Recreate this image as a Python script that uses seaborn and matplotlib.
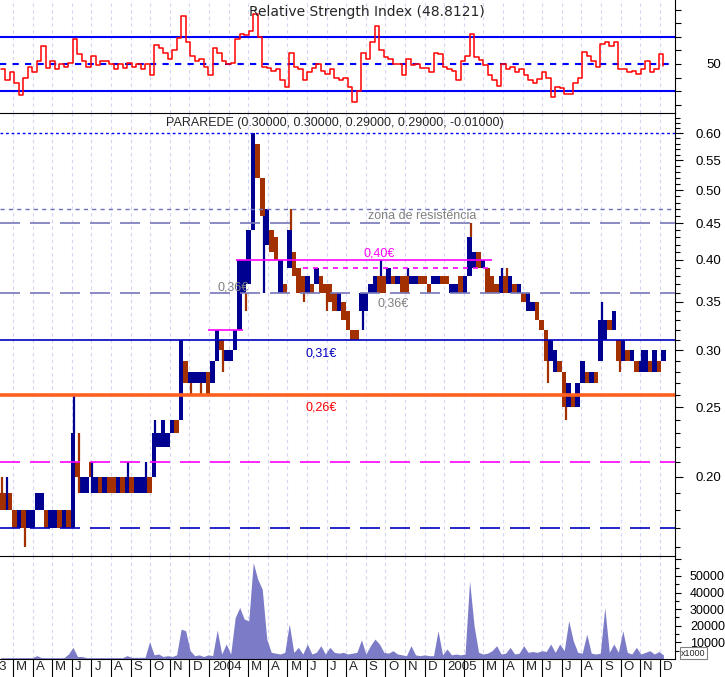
import numpy as np
import pandas as pd
import matplotlib
matplotlib.use("Agg")
import matplotlib.pyplot as plt
import matplotlib.transforms as mtrans
from matplotlib.ticker import FixedLocator, FixedFormatter, NullFormatter
import seaborn as sns

# x axis: week number counted from 1 Jan 2003
weeks = np.arange(6, 154)

# weekly price range in euro cents, u = up week (blue), d = down week (brown)
bar_low = [18, 18, 18, 17, 17, 17, 17, 17, 18, 18,
           17, 17, 17, 17, 17, 17, 17, 20, 19, 19,
           20, 19, 19, 19, 19, 19, 19, 19, 19, 19,
           19, 19, 19, 19, 20, 22, 22, 22, 23, 23,
           24, 27, 27, 27, 27, 27, 26, 27, 29, 30,
           29, 29, 30, 32, 36, 37, 44, 52, 46, 42,
           41, 40, 36, 36, 39, 38, 36, 36, 36, 36,
           37, 36, 36, 35, 34, 34, 33, 32, 31, 31,
           34, 34, 36, 36, 36, 36, 37, 37, 37, 36,
           36, 37, 37, 37, 37, 36, 37, 37, 37, 37,
           36, 36, 36, 36, 38, 39, 39, 39, 36, 36,
           36, 36, 36, 36, 36, 36, 35, 34, 34, 33,
           32, 29, 29, 28, 28, 25, 25, 25, 25, 27,
           27, 27, 27, 29, 31, 32, 32, 29, 29, 29,
           29, 28, 28, 28, 28, 28, 28, 29]
bar_high = [19, 19, 19, 18, 18, 18, 18, 18, 19, 19,
            18, 18, 18, 18, 18, 18, 23, 21, 20, 20,
            21, 20, 20, 20, 20, 20, 20, 20, 20, 20,
            20, 20, 20, 20, 23, 23, 24, 23, 24, 24,
            31, 29, 28, 28, 28, 28, 28, 29, 32, 31,
            30, 30, 32, 40, 40, 44, 60, 58, 52, 47,
            44, 43, 40, 37, 44, 41, 39, 38, 38, 37,
            39, 38, 37, 37, 36, 36, 35, 34, 32, 32,
            36, 36, 37, 38, 38, 38, 39, 38, 38, 38,
            38, 38, 38, 38, 38, 37, 38, 38, 38, 38,
            37, 37, 38, 38, 43, 41, 41, 40, 39, 38,
            37, 38, 38, 38, 37, 37, 36, 36, 35, 35,
            33, 32, 31, 30, 29, 28, 27, 26, 27, 29,
            28, 28, 28, 33, 33, 33, 34, 31, 31, 30,
            30, 29, 29, 30, 29, 30, 29, 30]
bar_dir = ("dddduduuuu" "duudududuu" "dududdudud" "uuuduuuuud"
           "uduuuuduud" "uuuuuuuddu" "ddududddud" "uddddudddd"
           "uuuuddudud" "duuddduudd" "uuduuududd" "dudududuud"
           "dduudduduu" "duduududud" "uduududu")

# single-day extremes drawn as thin lines
spike_week = [6, 7, 11, 22, 23, 23, 26, 34, 38, 40, 48, 50, 55, 60, 64,
              70, 73, 78, 86, 90, 96, 110, 117, 118, 127, 131, 139, 143, 148]
spike_low = [19, 18, 16, 23, 21, 19, 19, 20, 20, 23, 26, 26, 28, 34, 36,
             44, 35, 34, 32, 38, 38, 43, 38, 38, 27, 24, 33, 28, 29]
spike_high = [20, 20, 17, 26, 23, 20, 21, 21, 21, 24, 27, 27, 30, 36, 46,
              47, 36, 36, 34, 40, 39, 45, 39, 39, 29, 25, 35, 29, 30]
spike_dir = "dududduuuudddduddduuududddudu"

volume = [800, 800, 800, 800, 800, 800, 800, 800, 2000, 800,
          800, 800, 800, 800, 800, 3000, 7000, 1500, 1500, 800,
          800, 800, 800, 800, 800, 800, 800, 800, 2000, 1000,
          1000, 1000, 1000, 10400, 2500, 3000, 1500, 2000, 1500, 2500,
          18000, 17000, 5000, 2000, 2500, 1500, 2500, 2000, 17500, 3000,
          9000, 3000, 25000, 31000, 24000, 23000, 58000, 48000, 42000, 12000,
          4000, 3500, 3000, 4000, 21000, 4000, 7000, 3000, 9000, 3000,
          4000, 8000, 3000, 7000, 4000, 3500, 4000, 3000, 3500, 4000,
          11500, 3000, 8000, 12000, 9000, 4000, 3500, 5000, 3000, 2500,
          2000, 8000, 2500, 2000, 2500, 2000, 2000, 17000, 2500, 6000,
          2500, 3000, 2500, 3000, 47000, 20000, 4000, 3000, 3500, 5000,
          8000, 3000, 3500, 7000, 3000, 3500, 8000, 4000, 4500, 4000,
          5000, 4500, 9000, 4000, 9000, 5000, 23000, 11000, 4000, 3500,
          15000, 3500, 3000, 3500, 31000, 4000, 9000, 4000, 17000, 4000,
          3000, 7000, 3000, 4000, 5000, 3000, 4500, 2500]

rsi = [46, 38, 44, 36, 27, 40, 48, 44, 52, 63,
       47, 52, 46, 50, 48, 51, 68, 57, 52, 48,
       56, 49, 52, 52, 50, 46, 50, 47, 51, 48,
       50, 46, 50, 42, 64, 62, 58, 54, 60, 69,
       85, 66, 56, 52, 54, 48, 42, 62, 58, 52,
       50, 51, 68, 72, 71, 74, 87, 70, 48, 47,
       45, 46, 38, 33, 58, 48, 46, 38, 44, 47,
       50, 45, 43, 46, 40, 38, 40, 33, 22, 30,
       58, 54, 66, 78, 60, 55, 54, 50, 50, 42,
       54, 49, 50, 47, 47, 44, 58, 57, 48, 46,
       45, 38, 52, 56, 72, 55, 53, 49, 42, 38,
       34, 50, 46, 48, 44, 46, 42, 38, 36, 39,
       44, 40, 26, 33, 32, 28, 28, 36, 40, 59,
       56, 52, 48, 65, 66, 63, 66, 46, 46, 44,
       45, 43, 46, 52, 44, 46, 57, 48.8]

month_letters = list("JFMAMJJASOND")
price_ticks = [0.20, 0.25, 0.30, 0.35, 0.40, 0.45, 0.50, 0.55, 0.60]
vol_ticks = [10000, 20000, 30000, 40000, 50000, 60000]

sns.set_style("white")
plt.rcParams['font.family'] = ['Liberation Sans', 'DejaVu Sans']

W, H = 725, 677
fig = plt.figure(figsize=(W / 100, H / 100), dpi=100)


def panel(top, bottom):
    return fig.add_axes([0, 1 - bottom / H, 675 / W, (bottom - top) / H])


ax_rsi = panel(0, 113)
ax_p = panel(113, 556)
ax_v = panel(556, 659)

blue = '#000090'
brown = '#a33000'
month_idx = np.arange(2, 36)
month_pos = month_idx * 52.18 / 12

for ax in (ax_rsi, ax_p, ax_v):
    ax.set_xlim(5.81, 155.58)
    for pos in month_pos:
        ax.axvline(pos, color='#d4d4f4', lw=0.8, ls=(0, (3, 3)), zorder=0)
    for s in ax.spines.values():
        s.set_visible(False)
    ax.spines['right'].set_visible(True)
    ax.spines['right'].set_color('black')
    ax.yaxis.tick_right()
    ax.tick_params(axis='y', which='both', direction='out', colors='black',
                   labelsize=9.5, right=True, left=False, width=0.8)
    ax.tick_params(axis='x', bottom=False, labelbottom=False)

# RSI panel
rsi_df = pd.DataFrame({'week': weeks, 'rsi': rsi})
sns.lineplot(data=rsi_df, x='week', y='rsi', ax=ax_rsi, color='#ff0000',
             lw=1.1, drawstyle='steps-post', zorder=3)
ax_rsi.axhline(70, color='#0000ff', lw=1.5, zorder=2)
ax_rsi.axhline(30, color='#0000ff', lw=1.5, zorder=2)
ax_rsi.axhline(50, color='#0000ff', lw=1.5, ls=(0, (3, 3)), zorder=2)
ax_rsi.set_ylim(14, 97)
ax_rsi.set_yticks(range(20, 100, 10))
ax_rsi.set_yticklabels(['50' if t == 50 else '' for t in range(20, 100, 10)])
ax_rsi.tick_params(axis='y', length=4.3, pad=18)
ax_rsi.set_xlabel('')
ax_rsi.set_ylabel('')

# price panel
lo = np.array(bar_low) / 100
hi = np.array(bar_high) / 100
ax_p.bar(weeks, hi - lo, bottom=lo, width=1.0,
         color=[blue if c == 'u' else brown for c in bar_dir], lw=0, zorder=3)
ax_p.vlines(np.array(spike_week) + 0.3, np.array(spike_low) / 100,
            np.array(spike_high) / 100,
            colors=[blue if c == 'u' else brown for c in spike_dir], lw=1.6, zorder=3)
ax_p.set_yscale('log')
ax_p.set_ylim(0.1554, 0.6396)
ax_p.yaxis.set_major_locator(FixedLocator(price_ticks))
ax_p.yaxis.set_major_formatter(FixedFormatter([f'{t:.2f}' for t in price_ticks]))
ax_p.yaxis.set_minor_locator(FixedLocator([i / 100 for i in range(16, 64) if i % 5]))
ax_p.yaxis.set_minor_formatter(NullFormatter())
ax_p.tick_params(axis='y', which='major', length=5.8, pad=8.6)
ax_p.tick_params(axis='y', which='minor', length=3.6)
ax_p.spines['top'].set_visible(True)
ax_p.spines['top'].set_color('black')

long_dash = (0, (12, 6))
ax_p.axhline(0.60, color='#0000ff', lw=1, ls=(0, (2, 2)), zorder=4)
ax_p.axhline(0.47, color='#7070c0', lw=1, ls=(0, (3, 3)), zorder=4)
ax_p.axhline(0.45, color='#7777bb', lw=1.2, ls=long_dash, zorder=4)
ax_p.axhline(0.36, color='#7777bb', lw=1.2, ls=long_dash, zorder=4)
ax_p.hlines(0.40, 58.2, 115.0, color='#ff00ff', lw=1.2, zorder=4)
ax_p.hlines(0.39, 73.1, 115.0, color='#ff00ff', lw=1.2, ls=(0, (3, 3)), zorder=4)
ax_p.hlines(0.32, 51.9, 59.7, color='#ff00ff', lw=1.2, zorder=4)
ax_p.axhline(0.31, color='#0000c0', lw=1.2, zorder=4)
ax_p.axhline(0.26, color='#ff6020', lw=2.6, zorder=4)
ax_p.axhline(0.21, color='#ff00ff', lw=1.2, ls=long_dash, zorder=4)
ax_p.axhline(0.17, color='#0000c0', lw=1.2, ls=long_dash, zorder=4)


def ftext(x, y, s, **kw):
    fig.text(x / W, 1 - y / H, s, va='center', **kw)


ftext(335, 123, 'PARAREDE (0.30000, 0.30000, 0.29000, 0.29000, -0.01000)',
      ha='center', fontsize=9)
ftext(367, 12, 'Relative Strength Index (48.8121)', ha='center', fontsize=10,
      family='DejaVu Sans')
ftext(422, 216, 'zona de resistência', ha='center', fontsize=9, color='#808080')
ftext(363, 254, '0,40€', ha='left', fontsize=9, color='#ff00ff')
ftext(217, 287, '0,36€', ha='left', fontsize=9, color='#808080')
ftext(378, 303, '0,36€', ha='left', fontsize=9, color='#808080')
ftext(306, 353, '0,31€', ha='left', fontsize=9, color='#0000c0')
ftext(305, 408, '0,26€', ha='left', fontsize=9, color='#ff0000')

# volume panel
ax_v.fill_between(weeks, volume, color='#7b7bc8', lw=0, zorder=2)
ax_v.set_ylim(0, 62000)
ax_v.yaxis.set_major_locator(FixedLocator(vol_ticks))
ax_v.yaxis.set_major_formatter(FixedFormatter([str(t) if t < 60000 else '' for t in vol_ticks]))
ax_v.yaxis.set_minor_locator(FixedLocator(range(5000, 62000, 10000)))
ax_v.tick_params(axis='y', which='major', length=4.3, pad=6.5, labelsize=9)
ax_v.tick_params(axis='y', which='minor', length=2.9)
for side in ('top', 'bottom'):
    ax_v.spines[side].set_visible(True)
    ax_v.spines[side].set_color('black')
ax_v.set_xticks(month_pos)
ax_v.tick_params(axis='x', bottom=True, direction='out', length=13, width=0.8,
                 colors='black', labelbottom=False)

# month labels; the year takes the place of January and February is left out
lab_tr = mtrans.offset_copy(ax_v.get_xaxis_transform(), fig=fig, x=3, y=-8, units='dots')
ax_v.text(0, 0, '2003', transform=lab_tr, ha='left', va='center', fontsize=9.5, clip_on=False)
for m, pos in zip(month_idx, month_pos):
    if m % 12 == 1:
        continue
    lab = str(2003 + m // 12) if m % 12 == 0 else month_letters[m % 12]
    ax_v.text(pos, 0, lab, transform=lab_tr, ha='left', va='center', fontsize=9.5, clip_on=False)

fig.text(681 / W, 1 - 653 / H, 'x1000', fontsize=6.5, va='center',
         bbox=dict(boxstyle='square,pad=0.12', fc='white', ec='#808080', lw=0.8))

fig.savefig('out.png', dpi=100)
